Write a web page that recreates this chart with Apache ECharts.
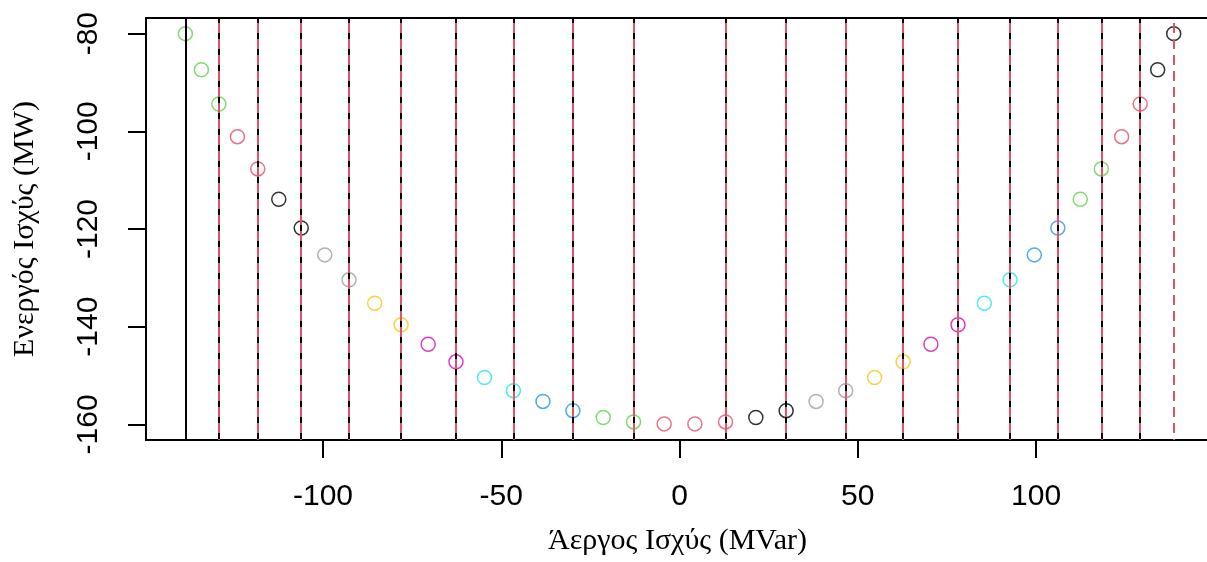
<!DOCTYPE html>
<html>
<head>
<meta charset="utf-8">
<script src="https://cdn.jsdelivr.net/npm/echarts@6/dist/echarts.min.js"></script>
<style>
    html, body {margin: 0; padding: 0; background: #fff;}
    #chartContainer {width: 1207px; height: 562px;}
</style>
</head>
<body>
<div id="chartContainer"></div>
<script>
// Άεργος ισχύς (MVar) των σημείων
var xValues = [-138.6, -134.1, -129.2, -124.0, -118.3, -112.4, -106.1, -99.5, -92.7, -85.5,
    -78.1, -70.5, -62.7, -54.7, -46.6, -38.3, -29.9, -21.4, -12.9, -4.3,
    4.3, 12.9, 21.4, 29.9, 38.3, 46.6, 54.7, 62.7, 70.5, 78.1,
    85.5, 92.7, 99.5, 106.1, 112.4, 118.3, 124.0, 129.2, 134.1, 138.6];
// Ενεργός ισχύς (MW) των σημείων
var yValues = [-80.0, -87.4, -94.4, -101.1, -107.7, -113.9, -119.8, -125.3, -130.4, -135.2,
    -139.6, -143.6, -147.2, -150.4, -153.1, -155.3, -157.2, -158.6, -159.5, -159.9,
    -159.9, -159.5, -158.6, -157.2, -155.3, -153.1, -150.4, -147.2, -143.6, -139.6,
    -135.2, -130.4, -125.3, -119.8, -113.9, -107.7, -101.1, -94.4, -87.4, -80.0];
var pointColors = ['#61D04F', '#61D04F', '#61D04F', '#DF536B', '#DF536B', '#000000', '#000000', '#9E9E9E', '#9E9E9E', '#F5C710',
    '#F5C710', '#CD0BBC', '#CD0BBC', '#28E2E5', '#28E2E5', '#2297E6', '#2297E6', '#61D04F', '#61D04F', '#DF536B',
    '#DF536B', '#DF536B', '#000000', '#000000', '#9E9E9E', '#9E9E9E', '#F5C710', '#F5C710', '#CD0BBC', '#CD0BBC',
    '#28E2E5', '#28E2E5', '#2297E6', '#2297E6', '#61D04F', '#61D04F', '#DF536B', '#DF536B', '#000000', '#000000'];

// κάθετες γραμμές
var blackSolidLines = [-138.6];
var blackDashedLines = [-129.2, -118.3, -106.1, -92.7, -78.1, -62.7, -46.6, -29.9, -12.9,
    12.9, 29.9, 46.6, 62.7, 78.1, 92.7, 106.1, 118.3, 129.2];
var redDashedLines = [-129.2, -118.3, -106.1, -92.7, -78.1, -62.7, -46.6, -29.9, -12.9,
    12.9, 29.9, 46.6, 62.7, 78.1, 92.7, 106.1, 118.3, 129.2, 138.6];

var xTicks = [-100, -50, 0, 50, 100];
var yTicks = [-160, -140, -120, -100, -80];

var points = [];
for (var i = 0; i < xValues.length; i++) {
    points.push({value: [xValues[i], yValues[i]], itemStyle: {borderColor: pointColors[i]}});
}

var blackLines = [];
blackSolidLines.forEach(function (v) {
    blackLines.push({xAxis: v, lineStyle: {color: '#000', width: 2, type: 'solid'}});
});
blackDashedLines.forEach(function (v) {
    blackLines.push({xAxis: v, lineStyle: {color: '#000', width: 2, type: [8, 8]}});
});
var redLines = [];
redDashedLines.forEach(function (v) {
    // κόκκινες παύλες λίγο μακρύτερες, στα κενά των μαύρων
    redLines.push({xAxis: v, lineStyle: {color: '#DF536B', width: 2, type: [10, 6], dashOffset: 9}});
});

var chart = echarts.init(document.getElementById('chartContainer'));
var option = {
    animation: false,
    backgroundColor: '#fff',
    grid: {
        left: 146, right: -2, top: 18, bottom: 122,
        outerBoundsMode: 'none',
        show: true, borderColor: '#000', borderWidth: 2, backgroundColor: 'transparent'
    },
    xAxis: {
        type: 'value',
        position: 'bottom',
        min: -149.64,
        max: 148.5,
        name: 'Άεργος Ισχύς (MVar)',
        nameLocation: 'middle',
        nameGap: 86,
        nameTextStyle: {fontFamily: 'Liberation Serif', fontSize: 30, color: '#000'},
        splitLine: {show: false},
        axisLine: {show: false, onZero: false},
        axisTick: {show: true, length: 18, lineStyle: {color: '#000', width: 2}, customValues: xTicks},
        axisLabel: {fontFamily: 'Liberation Sans', fontSize: 30, color: '#000', margin: 42, customValues: xTicks}
    },
    yAxis: {
        type: 'value',
        position: 'left',
        min: -163.2,
        max: -76.8,
        name: 'Ενεργός Ισχύς (MW)',
        nameLocation: 'middle',
        nameGap: 106,
        nameTextStyle: {fontFamily: 'Liberation Serif', fontSize: 30, color: '#000'},
        splitLine: {show: false},
        axisLine: {show: false, onZero: false},
        axisTick: {show: true, length: 18, lineStyle: {color: '#000', width: 2}, customValues: yTicks},
        axisLabel: {fontFamily: 'Liberation Sans', fontSize: 30, color: '#000', margin: 42, rotate: 90, customValues: yTicks}
    },
    series: [
        {
            type: 'scatter',
            z: 2,
            symbol: 'circle',
            symbolSize: 14,
            itemStyle: {color: 'rgba(0,0,0,0)', borderWidth: 1.5},
            data: points,
            silent: true,
            markLine: {
                silent: true,
                symbol: 'none',
                label: {show: false},
                data: blackLines
            }
        },
        {
            type: 'scatter',
            z: 3,
            data: [],
            silent: true,
            markLine: {
                silent: true,
                symbol: 'none',
                label: {show: false},
                data: redLines
            }
        }
    ]
};
chart.setOption(option);
</script>
</body>
</html>
